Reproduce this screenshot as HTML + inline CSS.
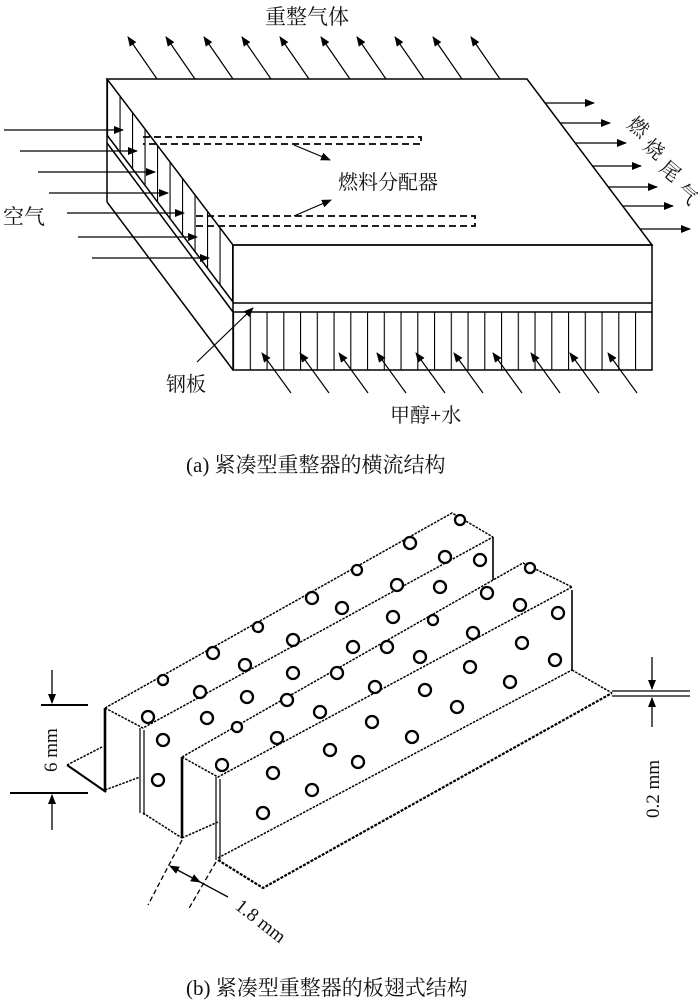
<!DOCTYPE html>
<html><head><meta charset="utf-8"><style>
html,body{margin:0;padding:0;background:#fff}
svg{display:block}
.t{font-family:"Liberation Serif","Noto Serif CJK SC",serif;fill:#111}
</style></head><body>
<svg width="700" height="1006" viewBox="0 0 700 1006" xmlns="http://www.w3.org/2000/svg">
<defs>
<marker id="ah" markerWidth="10" markerHeight="8" refX="9" refY="4" orient="auto" markerUnits="userSpaceOnUse"><path d="M0,0 L10,4 L0,8 z" fill="#000"/></marker>
<pattern id="hL" width="12.5" height="10" patternUnits="userSpaceOnUse" x="107"><line x1="0.5" y1="0" x2="0.5" y2="10" stroke="#000" stroke-width="1.2"/></pattern>
<pattern id="hB" width="16.75" height="10" patternUnits="userSpaceOnUse" x="233"><line x1="0.5" y1="0" x2="0.5" y2="10" stroke="#000" stroke-width="1.2"/></pattern>
</defs>
<g stroke="#000" fill="none" stroke-width="1.5">
<g marker-end="url(#ah)" stroke-width="1.2">
<line x1="157" y1="79" x2="128" y2="37"/><line x1="195" y1="79" x2="166" y2="37"/><line x1="233" y1="79" x2="204" y2="37"/><line x1="271" y1="79" x2="242" y2="37"/><line x1="309" y1="79" x2="280" y2="37"/><line x1="350" y1="79" x2="321" y2="37"/><line x1="386" y1="79" x2="357" y2="37"/><line x1="424" y1="79" x2="395" y2="37"/><line x1="462" y1="79" x2="433" y2="37"/><line x1="500" y1="79" x2="471" y2="37"/>
</g>
<polygon points="107,79 527,79 652,245 233,245" fill="#fff"/>
<polygon points="107,79 233,245 233,302 107,135" fill="url(#hL)" stroke="none"/>
<rect x="233" y="312" width="419" height="58" fill="url(#hB)" stroke="none"/>
<line x1="107" y1="79" x2="107" y2="202"/>
<line x1="107" y1="202" x2="233" y2="370"/>
<line x1="107" y1="135" x2="233" y2="302"/>
<line x1="107" y1="143" x2="233" y2="312"/>
<rect x="233" y="245" width="419" height="125"/>
<line x1="233" y1="303" x2="652" y2="303"/>
<line x1="233" y1="312" x2="652" y2="312"/>
<g stroke-dasharray="7 4" stroke-width="1.8">
<path d="M143,137 H421 V144 H143"/>
<path d="M196,216 H475 V226 H196"/>
</g>
<g marker-end="url(#ah)" stroke-width="1.2">
<line x1="4" y1="130" x2="123" y2="130"/><line x1="20" y1="151" x2="137" y2="151"/><line x1="38" y1="172" x2="155" y2="172"/><line x1="49" y1="193" x2="168" y2="193"/><line x1="67" y1="213" x2="184" y2="213"/><line x1="78" y1="237" x2="197" y2="237"/><line x1="92" y1="258" x2="209" y2="258"/>
<line x1="294" y1="145" x2="330" y2="160"/><line x1="294" y1="216" x2="331" y2="200"/>
<line x1="197" y1="362" x2="253" y2="308"/>
</g>
<g marker-end="url(#ah)" stroke-width="1.2">
<line x1="545" y1="103" x2="594" y2="103"/><line x1="560" y1="123" x2="610" y2="123"/><line x1="575" y1="143" x2="626" y2="143"/><line x1="592" y1="166" x2="641" y2="166"/><line x1="608" y1="187" x2="657" y2="187"/><line x1="623" y1="206" x2="673" y2="206"/><line x1="640" y1="229" x2="690" y2="229"/>
</g>
<g marker-end="url(#ah)" stroke-width="1.2">
<line x1="291" y1="393" x2="262" y2="353"/><line x1="329" y1="393" x2="300" y2="353"/><line x1="368" y1="393" x2="339" y2="353"/><line x1="406" y1="393" x2="377" y2="353"/><line x1="445" y1="393" x2="416" y2="353"/><line x1="483" y1="393" x2="454" y2="353"/><line x1="522" y1="393" x2="493" y2="353"/><line x1="560" y1="393" x2="531" y2="353"/><line x1="599" y1="393" x2="570" y2="353"/><line x1="637" y1="393" x2="608" y2="353"/>
</g>
</g>
<text class="t" x="265" y="24" font-size="21">重整气体</text>
<text class="t" x="338" y="189" font-size="20">燃料分配器</text>
<text class="t" x="3" y="224" font-size="21">空气</text>
<text class="t" x="166" y="391" font-size="20">钢板</text>
<text class="t" x="390" y="422" font-size="20">甲醇+水</text>
<g class="t" font-size="20">
<text transform="translate(626,126) rotate(40)">燃</text>
<text transform="translate(642,148) rotate(40)">烧</text>
<text transform="translate(658,170) rotate(40)">尾</text>
<text transform="translate(675,193) rotate(40)">气</text>
</g>
<text class="t" x="186" y="472" font-size="21">(a) 紧凑型重整器的横流结构</text>

<!-- (b) fins -->
<g stroke="#000" fill="none" stroke-width="1.5" stroke-dasharray="2.5 1.2">
<polyline points="105,708 452,513 493,537"/>
<polyline points="105,708 143,728 493,537"/>
<polyline points="182,757 523,563 572,587"/>
<polyline points="182,757 218,777 572,587"/>
<line x1="218" y1="858" x2="572" y2="670"/>
<polyline points="572,670 612,693"/>
<line x1="67" y1="765" x2="102" y2="747"/>
<line x1="105" y1="790" x2="140" y2="777"/>
<line x1="143" y1="813" x2="182" y2="838"/>
<line x1="182" y1="838" x2="218" y2="822"/>
</g>
<g stroke="#000" fill="none" stroke-width="2.6">
<line x1="105" y1="708" x2="105" y2="792"/>
<line x1="182" y1="757" x2="182" y2="838"/>
<polyline points="218,860 263,888 612,693" stroke-width="2.2" stroke-dasharray="3 1.3"/>
<line x1="67" y1="765" x2="106" y2="792" stroke-width="2"/>
</g>
<g stroke="#000" fill="none" stroke-width="1.2">
<line x1="140" y1="728" x2="140" y2="813"/><line x1="144" y1="730" x2="144" y2="815"/>
<line x1="216" y1="777" x2="216" y2="860"/><line x1="220" y1="779" x2="220" y2="862"/>
<line x1="493" y1="537" x2="493" y2="580" stroke-width="1.6"/>
<line x1="572" y1="590" x2="572" y2="670" stroke-width="1.6"/>
</g>
<g stroke="#000" fill="#fff" stroke-width="2.3">
<circle cx="148" cy="717" r="6"/><circle cx="163" cy="740" r="6"/><circle cx="158" cy="780" r="6"/><circle cx="200" cy="692" r="6"/><circle cx="207" cy="718" r="6"/><circle cx="247" cy="697" r="6"/><circle cx="245" cy="665" r="6"/><circle cx="213" cy="653" r="6"/><circle cx="163" cy="680" r="5"/><circle cx="258" cy="627" r="5"/><circle cx="293" cy="640" r="6"/><circle cx="312" cy="598" r="6"/><circle cx="342" cy="608" r="6"/><circle cx="293" cy="673" r="6"/><circle cx="287" cy="700" r="6"/><circle cx="337" cy="673" r="6"/><circle cx="237" cy="727" r="5"/><circle cx="222" cy="765" r="6"/><circle cx="277" cy="738" r="6"/><circle cx="320" cy="712" r="6"/><circle cx="330" cy="750" r="6"/><circle cx="273" cy="773" r="6"/><circle cx="312" cy="790" r="6"/><circle cx="263" cy="813" r="6"/>
<circle cx="460" cy="520" r="5"/><circle cx="410" cy="543" r="6"/><circle cx="357" cy="570" r="5"/><circle cx="445" cy="557" r="6"/><circle cx="480" cy="560" r="6"/><circle cx="397" cy="585" r="6"/><circle cx="440" cy="587" r="6"/><circle cx="487" cy="593" r="6"/><circle cx="393" cy="617" r="6"/><circle cx="433" cy="620" r="5"/><circle cx="353" cy="647" r="6"/><circle cx="387" cy="647" r="6"/><circle cx="473" cy="633" r="6"/><circle cx="520" cy="605" r="6"/><circle cx="558" cy="613" r="6"/><circle cx="522" cy="643" r="6"/><circle cx="420" cy="657" r="6"/><circle cx="470" cy="667" r="6"/><circle cx="555" cy="660" r="6"/><circle cx="375" cy="687" r="6"/><circle cx="425" cy="690" r="6"/><circle cx="510" cy="682" r="6"/><circle cx="457" cy="707" r="6"/><circle cx="372" cy="722" r="6"/><circle cx="412" cy="737" r="6"/><circle cx="358" cy="762" r="6"/><circle cx="530" cy="568" r="5"/>
</g>
<g stroke="#000" fill="none" stroke-width="1.3">
<line x1="41" y1="705" x2="88" y2="705" stroke-width="2"/>
<line x1="10" y1="793" x2="88" y2="793" stroke-width="2"/>
<line x1="52" y1="670" x2="52" y2="703" marker-end="url(#ah)"/>
<line x1="52" y1="830" x2="52" y2="795" marker-end="url(#ah)"/>
<line x1="612" y1="691" x2="690" y2="691"/><line x1="612" y1="696" x2="690" y2="696"/>
<line x1="652" y1="657" x2="652" y2="689" marker-end="url(#ah)"/>
<line x1="652" y1="727" x2="652" y2="698" marker-end="url(#ah)"/>
<line x1="182" y1="840" x2="148" y2="905" stroke-dasharray="5 3"/>
<line x1="216" y1="862" x2="188" y2="910" stroke-dasharray="5 3"/>
<line x1="185" y1="874" x2="170" y2="866" marker-end="url(#ah)"/>
<line x1="185" y1="874" x2="200" y2="882" marker-end="url(#ah)"/>
<line x1="200" y1="882" x2="228" y2="897"/>
</g>
<text class="t" font-size="19" transform="translate(57,772) rotate(-90)">6 mm</text>
<text class="t" font-size="19" transform="translate(659,818) rotate(-90)">0.2 mm</text>
<text class="t" font-size="19" transform="translate(234,908) rotate(38)">1.8 mm</text>
<text class="t" x="186" y="995" font-size="21">(b) 紧凑型重整器的板翅式结构</text>
</svg>
</body></html>
